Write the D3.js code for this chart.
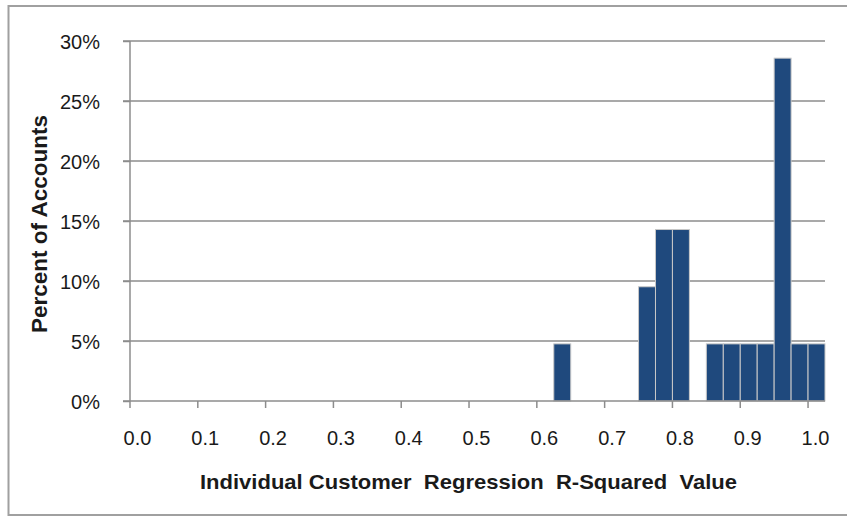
<!DOCTYPE html>
<html><head><meta charset="utf-8">
<script src="https://cdn.jsdelivr.net/npm/d3@7"></script>
<style>body{margin:0;background:#fff}svg{display:block}text{font-family:"Liberation Sans",Arial,sans-serif;fill:#1a1a1a}</style>
</head><body>
<script>
// Bin start values (width 0.025), 41 bins from 0.000 to 1.000
const bins = d3.range(41).map(i => +(i * 0.025).toFixed(3));
// Percent of accounts per bin (21 accounts total)
const percents = [0,0,0,0,0,0,0,0,0,0, 0,0,0,0,0,0,0,0,0,0, 0,0,0,0,0,4.76,0,0,0,0, 9.52,14.29,14.29,0,4.76,4.76,4.76,4.76,28.57,4.76, 4.76];
const xTickLabels = ["0.0","0.1","0.2","0.3","0.4","0.5","0.6","0.7","0.8","0.9","1.0"];
const yTicks = [0,5,10,15,20,25,30];
const xTitle = "Individual Customer  Regression  R-Squared  Value";
const yTitle = "Percent of Accounts";

(function(){
const W = 847, H = 517;
const svg = d3.select("body").append("svg").attr("width", W).attr("height", H);
// outer border
svg.append("rect").attr("x", 8.5).attr("y", 6).attr("width", 850).attr("height", 509)
  .attr("fill", "none").attr("stroke", "#a0a0a0").attr("stroke-width", 2);

const pL = 130, pR = 825, pT = 41, pB = 401;
const x = d3.scaleBand().domain(bins).range([pL, pR]).padding(0);
const y = d3.scaleLinear().domain([0, 30]).range([pB, pT]);

// gridlines
svg.append("g").selectAll("line").data(yTicks.filter(d => d > 0)).join("line")
  .attr("x1", pL - 7).attr("x2", pR).attr("y1", d => y(d)).attr("y2", d => y(d))
  .attr("stroke", "#8c8c8c").attr("stroke-width", 1.5);

// y axis
const yAxis = svg.append("g").attr("transform", `translate(${pL},0)`)
  .call(d3.axisLeft(y).tickValues(yTicks).tickSize(7).tickPadding(23).tickFormat(d => d + "%"));
yAxis.select(".domain").remove();
yAxis.append("line").attr("x1", 0).attr("x2", 0).attr("y1", pT).attr("y2", pB)
  .attr("stroke", "#8c8c8c").attr("stroke-width", 1.5);
yAxis.selectAll(".tick line").attr("stroke", "#8c8c8c").attr("stroke-width", 1.5);
yAxis.selectAll(".tick text").style("font-size", "20px").attr("dy", "0.36em").attr("fill", "#1a1a1a");

// bars
svg.append("g").selectAll("rect").data(bins.map((b, i) => ({b, v: percents[i]})).filter(d => d.v > 0)).join("rect")
  .attr("x", d => x(d.b)).attr("width", x.bandwidth())
  .attr("y", d => y(d.v)).attr("height", d => pB - y(d.v))
  .attr("fill", "#1f497d").attr("stroke", "#c8c8c8").attr("stroke-width", 1);

// x axis
const labeled = bins.filter((b, i) => i % 4 === 0);
const xAxis = svg.append("g").attr("transform", `translate(0,${pB})`)
  .call(d3.axisBottom(x).tickValues(labeled).tickSize(0).tickPadding(0)
    .tickFormat((d, i) => xTickLabels[i]));
xAxis.select(".domain").remove();
xAxis.append("line").attr("x1", pL - 7).attr("x2", pR).attr("y1", 0).attr("y2", 0)
  .attr("stroke", "#8c8c8c").attr("stroke-width", 1.5);
xAxis.selectAll(".tick text").style("font-size", "20px").attr("y", 44).attr("dy", 0).attr("dx", -1).attr("fill", "#1a1a1a");
// tick marks at category boundaries every 4 bins
xAxis.selectAll(".tickmark").data(labeled).join("line").attr("class", "tickmark")
  .attr("x1", d => x(d)).attr("x2", d => x(d)).attr("y1", 0).attr("y2", 7)
  .attr("stroke", "#8c8c8c").attr("stroke-width", 1.5);

// titles
svg.append("text").attr("x", 468.5).attr("y", 489).attr("text-anchor", "middle")
  .style("font-size", "21px").style("font-weight", "bold").style("white-space", "pre")
  .attr("textLength", 537).attr("lengthAdjust", "spacingAndGlyphs").text(xTitle);
svg.append("text").attr("transform", `translate(47,224) rotate(-90)`).attr("text-anchor", "middle")
  .style("font-size", "22px").style("font-weight", "bold")
  .attr("textLength", 218).attr("lengthAdjust", "spacingAndGlyphs").text(yTitle);
})();
</script>
</body></html>
